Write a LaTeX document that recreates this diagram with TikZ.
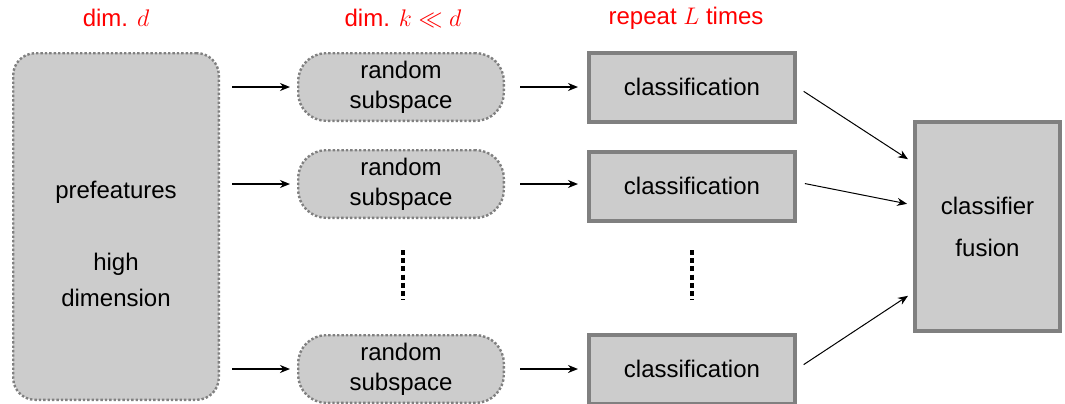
\documentclass[tikz,border=0pt]{standalone}
\usepackage{fontspec}
\setmainfont{Liberation Sans}
\usetikzlibrary{arrows.meta}
\definecolor{boxgray}{RGB}{204,204,204}
\definecolor{edgegray}{RGB}{128,128,128}
\tikzset{
  prebox/.style={draw=edgegray, fill=boxgray, densely dotted, line width=1.2pt, rounded corners=11pt, minimum width=102.8pt, minimum height=173.3pt},
  subbox/.style={draw=edgegray, fill=boxgray, densely dotted, line width=1.2pt, rounded corners=14pt, minimum width=102.8pt, minimum height=33.8pt, align=center, font=\fontsize{12}{15}\selectfont},
  classbox/.style={draw=edgegray, fill=boxgray, line width=2pt, minimum width=103pt, minimum height=34.5pt, font=\fontsize{12}{15}\selectfont},
  fusebox/.style={draw=edgegray, fill=boxgray, line width=2pt, minimum width=72.5pt, minimum height=104.5pt, align=center, font=\fontsize{12}{21}\selectfont},
  dimlabel/.style={text=red, font=\fontsize{12}{15}\selectfont},
  flow/.style={-{Stealth[length=5pt,width=4pt]}, line width=0.8pt},
  fuse/.style={-{Stealth[length=5pt,width=4pt]}, line width=0.5pt},
  vdots/.style={dash pattern=on 2.5pt off 1.6pt, line width=1.6pt}
}
\begin{document}
\begin{tikzpicture}[x=0.5pt, y=-0.5pt]
  \useasboundingbox (0,0) rectangle (1065,403);
  % labels
  \node[dimlabel] (dd) at (116,18) {dim. $d$};
  \node[dimlabel] (dk) at (403,18) {dim. $k \ll d$};
  \node[dimlabel] (dl) at (686,18) {repeat $L$ times};
  % prefeatures
  \node[prebox] (pre) at (116,226.5) {};
  \node[align=center, font=\fontsize{12}{18}\selectfont] (pretext) at (116,244) {prefeatures\\[18pt]high\\dimension};
  % random subspaces
  \node[subbox] (s1) at (401,87) {random\\subspace};
  \node[subbox] (s2) at (401,184) {random\\subspace};
  \node[subbox] (s3) at (401,369) {random\\subspace};
  % classifications
  \node[classbox] (c1) at (692,87) {classification};
  \node[classbox] (c2) at (692,186) {classification};
  \node[classbox] (c3) at (692,369) {classification};
  % fusion
  \node[fusebox] (fus) at (987.5,226.5) {classifier\\fusion};
  % arrows
  \draw[flow, shorten <=6pt, shorten >=3.5pt] (pre.east |- s1) -- (s1.west);
  \draw[flow, shorten <=6pt, shorten >=3.5pt] (pre.east |- s2) -- (s2.west);
  \draw[flow, shorten <=6pt, shorten >=3.5pt] (pre.east |- s3) -- (s3.west);
  \draw[flow, shorten <=7.5pt, shorten >=4.5pt] (s1.east) -- (s1.east -| c1.west);
  \draw[flow, shorten <=7.5pt, shorten >=4.5pt] (s2.east) -- (s2.east -| c2.west);
  \draw[flow, shorten <=7.5pt, shorten >=4.5pt] (s3.east) -- (s3.east -| c3.west);
  \draw[fuse, shorten <=4pt, shorten >=3pt] (c1.east) -- ([yshift=32pt]fus.west);
  \draw[fuse, shorten <=4pt, shorten >=3pt] ([yshift=2pt]c2.east) -- ([yshift=10.75pt]fus.west);
  \draw[fuse, shorten <=4pt, shorten >=3pt] (c3.east) -- ([yshift=-33pt]fus.west);
  % dots
  \draw[vdots] (403,250) -- (403,300);
  \draw[vdots] (692,250) -- (692,300);
\end{tikzpicture}
\end{document}
